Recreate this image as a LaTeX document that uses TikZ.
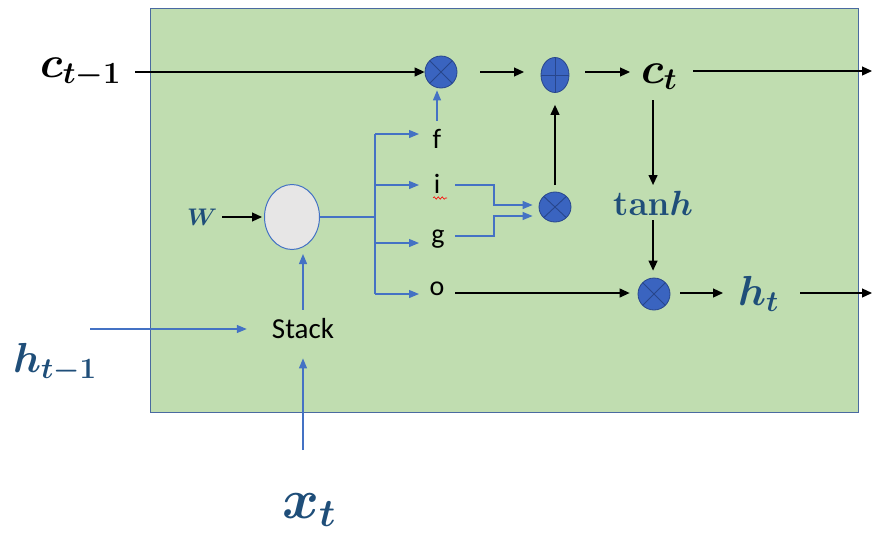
\RequirePackage{fix-cm}
\documentclass[tikz,border=0pt]{standalone}
\usepackage{fontspec}
\newfontfamily\calib{Carlito}
\usetikzlibrary{arrows.meta,shapes.geometric,decorations.pathmorphing}
\definecolor{boxgreen}{RGB}{192,221,176}
\definecolor{boxedge}{RGB}{74,106,160}
\definecolor{lblue}{RGB}{68,114,196}
\definecolor{dblue}{RGB}{31,78,121}
\definecolor{opfill}{RGB}{58,100,192}
\definecolor{opedge}{RGB}{40,70,140}
\definecolor{ellgrey}{RGB}{231,230,230}
\newcommand{\fsz}[1]{\fontsize{#1}{#1}\selectfont}
\begin{document}
\begin{tikzpicture}[x=1pt,y=-1pt,
  blk/.style={draw=black,line width=1.2pt,-{Triangle[length=10pt,width=9pt]}},
  blu/.style={draw=lblue,line width=1.2pt,-{Triangle[length=10pt,width=8pt]}},
  bline/.style={draw=lblue,line width=1.2pt},
  op/.style={ellipse,draw=opedge,fill=opfill,line width=0.8pt,inner sep=0pt,minimum width=32pt,minimum height=32pt},
  otimes/.style={op,path picture={\draw[opedge,line width=0.9pt]
     (path picture bounding box.north west)--(path picture bounding box.south east)
     (path picture bounding box.north east)--(path picture bounding box.south west);}},
  oplus/.style={op,path picture={\draw[opedge,line width=0.9pt]
     (path picture bounding box.north)--(path picture bounding box.south)
     (path picture bounding box.west)--(path picture bounding box.east);}},
  mlab/.style={inner sep=0pt,anchor=base west},
  glab/.style={inner sep=0pt,anchor=base,font=\calib\fsz{28}}
]
\useasboundingbox (0,0) rectangle (873,536);
% main box
\draw[boxedge,fill=boxgreen,line width=1pt] (150,8) rectangle (858,412);

% operators
\node[otimes] (m1) at (441,72) {};
\node[oplus,minimum width=28pt,minimum height=35pt] (pl) at (555,75) {};
\node[otimes,minimum height=30pt] (m2) at (555,207) {};
\node[otimes] (m3) at (654,294) {};
\node[ellipse,draw=lblue,fill=ellgrey,line width=1pt,minimum width=55pt,minimum height=65pt,inner sep=0pt] (ell) at (292,217) {};

% math labels
\node[mlab,font=\fsz{44}\boldmath] (cprev) at (40,77) {$c_{t-1}$};
\node[mlab,font=\fsz{44}\boldmath] (ct) at (641,83) {$c_t$};
\node[mlab,text=dblue,font=\fsz{35}\boldmath] (tanh) at (613,215) {$\mathbf{tan}h$};
\node[mlab,text=dblue,font=\fsz{42}\boldmath] (ht) at (738,305) {$h_t$};
\node[mlab,text=dblue,font=\fsz{42}\boldmath] (hprev) at (13,372) {$h_{t-1}$};
\node[mlab,text=dblue,font=\fsz{56}\boldmath] (xt) at (282,518) {$x_t$};
\node[mlab,text=dblue,font=\fsz{24}\boldmath] (W) at (187,225) {$W$};

% gate labels
\node[glab] (f) at (437,148) {f};
\node[glab] (i) at (437,193) {i};
\node[glab] (g) at (438,243) {g};
\node[glab] (o) at (437,295) {o};
\node[glab,font=\calib\fsz{29}] (stack) at (303,338) {Stack};
\draw[red,line width=0.6pt,decorate,decoration={snake,amplitude=1.2pt,segment length=4pt}] (433,198) -- (447,198);

% coordinates for free ends
\coordinate (cin) at (135,72);
\coordinate (cout) at (872,71);
\coordinate (hout) at (872,293);
\coordinate (hin) at (90,329);
\coordinate (xin) at (303,450);
\coordinate (br) at (375,217);
\coordinate (af) at (419,134);
\coordinate (ai) at (419,185);
\coordinate (ag) at (419,243);
\coordinate (ao) at (419,294);
\coordinate (is) at (455,185);
\coordinate (gs) at (455,236);
\coordinate (os) at (455,293);
\coordinate (ty1) at (0,100);
\coordinate (ty2) at (0,185);
\coordinate (ty3) at (0,220);

% black connectors
\draw[blk] (cin) -- (m1.west |- cin);
\draw[blk] (480,72) -- (524,72);
\draw[blk] (585,72) -- (630,72);
\draw[blk] (693,71) -- (cout);
\draw[blk] (tanh.north |- ty1) -- (tanh.north |- ty2);
\draw[blk,shorten >=7pt] (tanh.south |- ty3) -- (tanh.south |- m3.north);
\draw[blk,shorten >=12pt] (m2.north |- ty2) -- (pl.south);
\draw[blk,shorten >=8pt] (os) -- (m3.west |- os);
\draw[blk] (680,293) -- (723,293);
\draw[blk] (800,293) -- (hout);
\draw[blk,shorten >=2pt] ([xshift=5pt]W.east |- ell.west) -- (ell.west);

% blue connectors
\draw[bline] (ell.east) -- (br);
\draw[bline] (br |- af) -- (br |- ao);
\draw[blu] (br |- af) -- (af);
\draw[blu] (br |- ai) -- (ai);
\draw[blu] (br |- ag) -- (ag);
\draw[blu] (br |- ao) -- (ao);
\draw[blu,shorten >=2pt] ([yshift=8pt]f.north) -- (f.north |- m1.south);
\draw[blu,shorten >=6pt] (is) -- ++(39,0) |- ([yshift=2pt]m2.west);
\draw[blu,shorten >=6pt] (gs) -- ++(39,0) |- ([yshift=-9pt]m2.west);
\draw[blu,shorten >=4pt] ([yshift=8pt]stack.north) -- (stack.north |- ell.south);
\draw[blu] (hin) -- ([xshift=-25pt]stack.west |- hin);
\draw[blu] (xin) -- ([yshift=-20pt]stack.south);
\end{tikzpicture}
\end{document}
